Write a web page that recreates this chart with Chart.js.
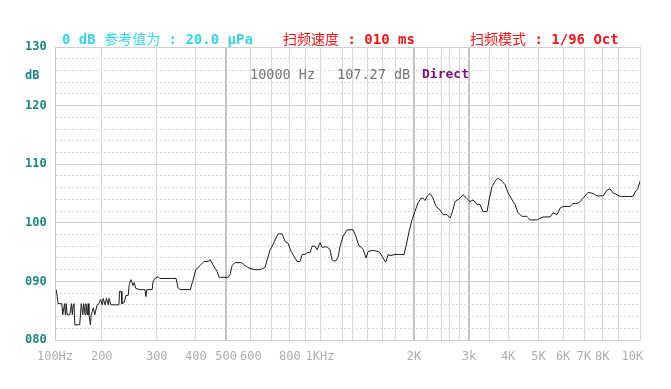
<!DOCTYPE html>
<html>
<head>
<meta charset="utf-8">
<script src="https://cdn.jsdelivr.net/npm/chart.js@4.4.1/dist/chart.umd.min.js"></script>
<style>
  html, body { margin: 0; padding: 0; background: #fff; }
  #wrap { position: relative; width: 671px; height: 389px; overflow: hidden; }
  #chart { position: absolute; left: 0; top: 0; }
  .lbl {
    position: absolute; white-space: nowrap; line-height: 14px; height: 14px;
    font-family: "DejaVu Sans Mono", "Noto Sans CJK SC", monospace; font-size: 13px;
  }
  .head { font-size: 14px; }
  .cjk { font-weight: normal; font-family: "Noto Sans CJK SC", sans-serif; }
  .ref { color: #3cd2e6; font-weight: bold; }
  .red { color: #f01818; font-weight: bold; }
  .gray { color: #767676; font-size: 13.5px; }
  .purple { color: #7a0f7a; font-weight: bold; }
</style>
</head>
<body>
<div id="wrap">
  <canvas id="chart" width="671" height="389"></canvas>
  <div class="lbl head ref" style="left:62px; top:31px;">0 dB <span class="cjk">参考值为</span> : 20.0 μPa</div>
  <div class="lbl head red" style="left:283px; top:31px;"><span class="cjk">扫频速度</span> : 010 ms</div>
  <div class="lbl head red" style="left:470px; top:31px;"><span class="cjk">扫频模式</span> : 1/96 Oct</div>
  <div class="lbl gray" style="left:250px; top:67px;">10000 Hz</div>
  <div class="lbl gray" style="left:337px; top:67px;">107.27 dB</div>
  <div class="lbl purple" style="left:422px; top:67px;">Direct</div>
</div>
<script>
// frequency response (Hz / dB SPL)
const freqs = [
  143, 144, 145, 149, 150, 152, 153, 154, 155, 158, 160, 161, 162, 163, 164, 170,
  172, 174, 175, 177, 178, 180, 181, 182, 184, 185, 188, 190, 193, 196, 198, 201,
  202, 205, 207, 210, 211, 214, 227, 228, 231, 232, 236, 239, 243, 245, 248, 252,
  254, 257, 265, 275, 277, 279, 290, 292, 296, 303, 307, 331, 346, 351, 356, 384,
  391, 400, 413, 425, 438, 445, 455, 468, 475, 508, 515, 523, 534, 560, 575, 597,
  619, 643, 667, 677, 692, 707, 718, 734, 756, 773, 790, 808, 844, 863, 876, 895,
  909, 929, 943, 964, 978, 1000, 1015, 1038, 1053, 1076, 1092, 1117, 1142, 1159, 1185, 1220,
  1276, 1304, 1333, 1343, 1373, 1404, 1425, 1478, 1533, 1556, 1615, 1627, 1651, 1675, 1738, 1803,
  1857, 1885, 1927, 1970, 2014, 2059, 2106, 2138, 2168, 2200, 2250, 2300, 2352, 2422, 2476, 2550,
  2607, 2646, 2705, 2806, 2869, 2955, 3021, 3089, 3181, 3253, 3325, 3425, 3476, 3554, 3633, 3715,
  3826, 3912, 3999, 4119, 4211, 4305, 4436, 4590, 4704, 4961, 5064, 5175, 5451, 5570, 5740, 5869,
  6000, 6317, 6458, 6655, 6800, 6952, 7213, 7484, 7708, 8057, 8299, 8484, 8674, 8932, 9133, 9616,
  10044, 10193, 10424, 10576
];
const spl = [
  88.6, 87.4, 86.2, 86.2, 84.3, 86.2, 84.3, 86.2, 84.3, 84.3, 86.2, 84.3, 85.9, 86.2, 82.6, 82.6,
  86.2, 84.3, 86.2, 84.3, 86.2, 84.3, 86.2, 84.3, 82.6, 84.3, 85.5, 84.3, 85.9, 86.2, 86.9, 86.0,
  87.1, 86.0, 87.1, 86.0, 87.1, 86.0, 86.0, 88.3, 88.3, 86.2, 86.4, 87.6, 87.6, 89.5, 90.3, 89.3,
  89.8, 88.8, 88.6, 88.6, 87.4, 88.6, 88.6, 90.0, 90.5, 90.8, 90.5, 90.5, 90.5, 88.9, 88.6, 88.6,
  90.0, 92.0, 92.7, 93.4, 93.4, 93.7, 92.7, 91.7, 90.7, 90.7, 91.2, 92.7, 93.2, 93.2, 92.7, 92.2,
  92.0, 92.0, 92.4, 93.7, 95.4, 96.3, 97.1, 98.1, 98.1, 96.8, 96.5, 95.1, 93.4, 93.4, 94.6, 94.6,
  94.9, 94.9, 96.0, 96.0, 95.4, 96.6, 95.8, 95.9, 95.9, 95.4, 93.7, 93.4, 94.1, 96.0, 97.7, 98.8,
  98.8, 97.6, 96.0, 96.0, 95.5, 94.0, 95.1, 95.3, 95.1, 94.9, 93.4, 93.4, 94.6, 94.4, 94.6, 94.6,
  94.6, 96.0, 98.5, 100.5, 102.0, 103.4, 104.2, 104.2, 103.8, 104.5, 105.0, 104.2, 102.8, 102.2, 101.4, 101.4,
  100.8, 101.7, 103.6, 104.2, 104.8, 104.1, 103.6, 103.9, 103.1, 103.1, 101.9, 101.9, 103.9, 106.2, 107.1, 107.6,
  107.1, 106.5, 105.1, 103.9, 103.1, 101.7, 101.1, 101.1, 100.5, 100.5, 100.8, 101.0, 101.0, 101.7, 101.4, 102.5,
  102.8, 102.8, 103.3, 103.3, 103.6, 104.2, 105.2, 105.0, 104.6, 104.6, 105.6, 105.8, 105.1, 104.8, 104.5, 104.5,
  104.5, 105.2, 105.9, 107.1
];

// x axis: grid lines and their labels ('' = grid line only)
const xMin = 141.7;
const xMax = 10576;
const xGrid = [141.7, 200, 300, 400, 500, 600, 700, 800, 900, 1000, 1180, 1270, 1420, 1580, 1750,
  2000, 2200, 2450, 2600, 2800, 3000, 3500, 4000, 5000, 6000, 7000, 8000, 9000, 10000, 10576];
const xText = ['100Hz', '200', '300', '400', '500', '600', '', '800', '', '1KHz', '', '', '', '', '',
  '2K', '', '', '', '', '3k', '', '4K', '5K', '6K', '7K', '8K', '', '10K', ''];
const xStrong = [500, 2000, 3000];

// y axis: every 2 dB, labels every 10 dB plus the unit
const yMin = 80;
const yMax = 130;
const yGrid = [80, 82, 84, 86, 88, 90, 92, 94, 96, 98, 100, 102, 104, 106, 108, 110,
  112, 114, 116, 118, 120, 122, 124, 125, 126, 128, 130];
const yUnitAt = 125;

const ctx = document.getElementById('chart').getContext('2d');

new Chart(ctx, {
  type: 'line',
  data: {
    datasets: [{
      data: freqs.map((f, i) => ({ x: f, y: spl[i] })),
      borderColor: '#1c1c1c',
      borderWidth: 1,
      pointRadius: 0,
      tension: 0,
      fill: false
    }]
  },
  options: {
    responsive: false,
    animation: false,
    layout: { padding: { top: 47, right: 31, left: 25, bottom: 0 } },
    plugins: { legend: { display: false }, tooltip: { enabled: false } },
    scales: {
      x: {
        type: 'logarithmic',
        min: xMin,
        max: xMax,
        afterBuildTicks: s => { s.ticks = xGrid.map(v => ({ value: v })); },
        afterFit: s => { s.height = 49; },
        ticks: {
          autoSkip: false, maxRotation: 0, minRotation: 0, padding: 10,
          color: '#adadad',
          font: { family: 'DejaVu Sans Mono', size: 12 },
          callback: (v, i) => xText[i]
        },
        grid: {
          drawTicks: false,
          color: c => {
            const v = c.tick ? c.tick.value : 0;
            if (v === 10000) return 'rgba(0,0,0,0)';
            return xStrong.includes(v) ? '#c2c2c2' : '#d6d6d6';
          },
          lineWidth: c => (c.tick && xStrong.includes(c.tick.value)) ? 2 : 1
        },
        border: { display: false }
      },
      y: {
        min: yMin,
        max: yMax,
        afterBuildTicks: s => { s.ticks = yGrid.map(v => ({ value: v })); },
        afterFit: s => { s.width = 30; },
        ticks: {
          autoSkip: false, crossAlign: 'far', padding: 0,
          color: '#1f8585',
          font: { family: 'DejaVu Sans Mono', size: 12, weight: 'bold' },
          callback: v => {
            if (v === yUnitAt) return 'dB';
            return v % 10 === 0 ? String(v).padStart(3, '0') : '';
          }
        },
        grid: {
          drawTicks: false,
          color: c => {
            const v = c.tick ? c.tick.value : 0;
            if (v === yUnitAt) return 'rgba(0,0,0,0)';
            return v % 10 === 0 ? '#d0d0d0' : '#d8d8d8';
          }
        },
        border: {
          color: '#c8c8c8',
          dash: c => (c.tick && c.tick.value % 10 !== 0) ? [2, 2] : []
        }
      }
    }
  }
});
</script>
</body>
</html>
